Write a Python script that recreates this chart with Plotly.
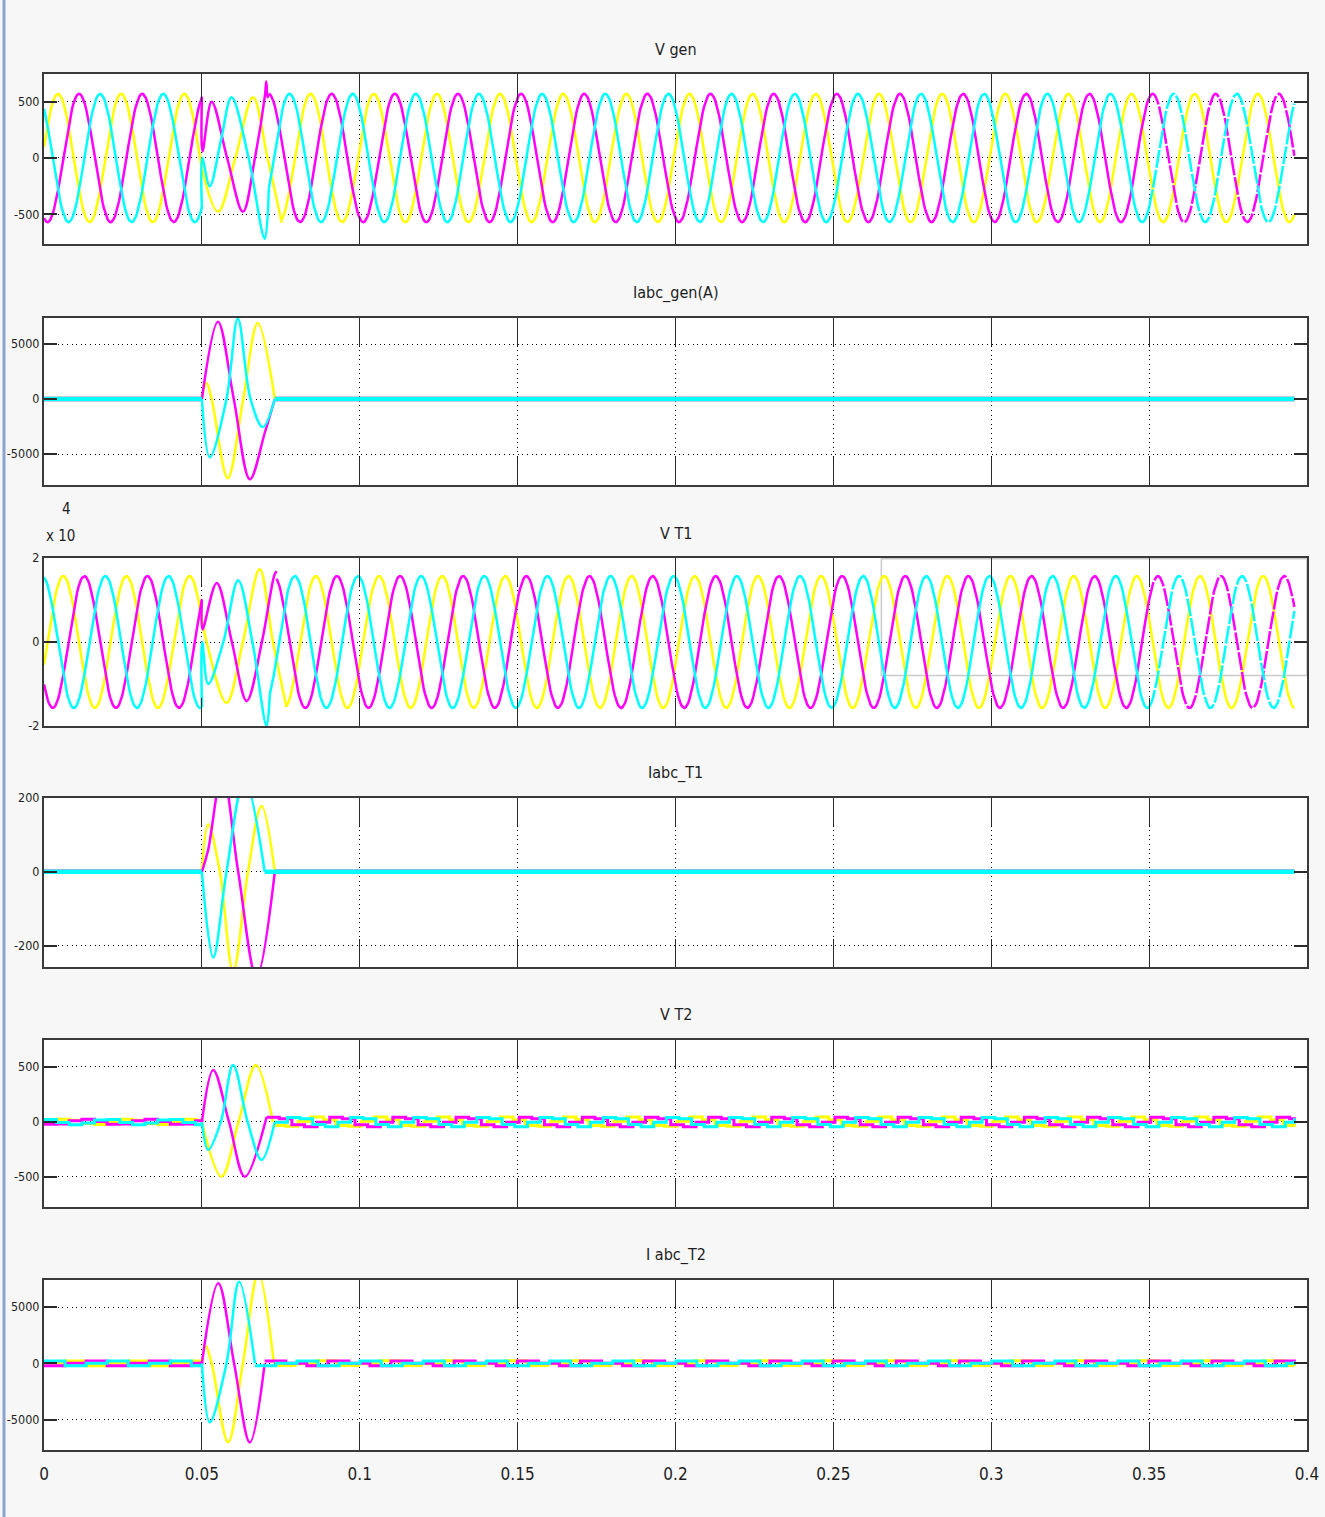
import numpy as np
import plotly.graph_objects as go

# ---------------- time base ----------------
T_STOP = 0.396          # last simulated sample shown
F_HZ = 50.0             # system frequency
T_FAULT = 0.05          # fault inception
T_SPARSE = 0.35         # from here the scope buffer is drawn with gaps

X_TICK_VALS = [0.0, 0.05, 0.10, 0.15, 0.20, 0.25, 0.30, 0.35, 0.40]
X_TICK_TEXT = ["0", "0.05", "0.1", "0.15", "0.2", "0.25", "0.3", "0.35", "0.4"]

PHASE_COLORS = ["#ffff00", "#ff00ff", "#00ffff"]   # phase a, b, c

PANEL_TITLES = ["V gen", "Iabc_gen(A)", "V T1", "Iabc_T1", "V T2", "I abc_T2"]
PANEL_Y_RANGES = [[-764, 746], [-7818, 7364], [-20000, 20000],
                  [-258, 200], [-773, 745], [-7710, 7410]]
PANEL_Y_TICKS = [[-500, 0, 500], [-5000, 0, 5000], [-20000, 0, 20000],
                 [-200, 0, 200], [-500, 0, 500], [-5000, 0, 5000]]
PANEL_Y_TICK_TEXT = [["-500", "0", "500"], ["-5000", "0", "5000"], ["-2", "0", "2"],
                     ["-200", "0", "200"], ["-500", "0", "500"], ["-5000", "0", "5000"]]

# ---------------- steady-state phasors ----------------
VGEN_AMP = 570.0
VGEN_ANGLE_DEG = [10.0, -110.0, 130.0]
VT1_AMP = 15700.0
VT1_ANGLE_DEG = [-20.0, -140.0, 100.0]
VT2_AMP_PRE = 25.0
VT2_AMP_POST = 45.0
VT2_ANGLE_DEG = [0.0, -120.0, 120.0]
IT2_RIPPLE_AMP = 250.0
IT2_ANGLE_DEG = [0.0, -120.0, 120.0]
VT2_HOLD = 0.004
IT2_HOLD = 0.02 / 3

# ---------------- fault-period waveforms (t [s], value) ----------------
VGEN_FAULT_A = [(0.0500, -98), (0.0551, -478), (0.0606, 0), (0.0662, 540),
                (0.0708, 0), (0.0753, -575)]
VGEN_FAULT_B = [(0.0500, 545), (0.0502, 60), (0.0531, 500), (0.0580, 0),
                (0.0630, -478), (0.0668, 0), (0.0700, 560), (0.0704, 680),
                (0.0708, 540), (0.0712, 570)]
VGEN_FAULT_C = [(0.0500, -447), (0.0501, 0), (0.0525, -250), (0.0560, 150),
                (0.0594, 540), (0.0648, 0), (0.0699, -717), (0.0712, -271)]

IGEN_FAULT_A = [(0.0500, 0), (0.0515, 1450), (0.0531, 0), (0.0582, -7200),
                (0.0631, 0), (0.0677, 6900), (0.0731, 0)]
IGEN_FAULT_B = [(0.0500, 0), (0.0551, 7030), (0.0601, 0), (0.0652, -7300),
                (0.0700, -3000), (0.0731, 0)]
IGEN_FAULT_C = [(0.0500, 0), (0.0525, -5300), (0.0578, 0), (0.0614, 7300),
                (0.0654, 0), (0.0693, -2550), (0.0731, 0)]

VT1_FAULT_A = [(0.0500, 5370), (0.0515, 0), (0.0578, -14500), (0.0630, 0),
               (0.0683, 17400), (0.0725, 0), (0.0768, -15500)]
VT1_FAULT_B = [(0.0500, 10090), (0.0502, 3000), (0.0547, 14050), (0.0595, 0),
               (0.0642, -14050), (0.0690, 0), (0.0730, 16000), (0.0737, 16870)]
VT1_FAULT_C = [(0.0500, -15460), (0.0501, 0), (0.0520, -10000), (0.0568, 0),
               (0.0615, 14700), (0.0660, 0), (0.0705, -20000), (0.0715, -12540)]

IT1_FAULT_A = [(0.0500, 0), (0.0520, 129), (0.0557, 0), (0.0599, -270),
               (0.0646, 0), (0.0689, 178), (0.0731, 0)]
IT1_FAULT_B = [(0.0500, 0), (0.0520, 60), (0.0565, 270), (0.0615, 0),
               (0.0673, -285), (0.0731, 0)]
IT1_FAULT_C = [(0.0500, 0), (0.0536, -232), (0.0578, 0), (0.0635, 250),
               (0.0699, 0)]

VT2_FAULT_A = [(0.0500, 0), (0.0562, -497), (0.0616, 0), (0.0671, 518),
               (0.0725, 0)]
VT2_FAULT_B = [(0.0500, 0), (0.0536, 473), (0.0586, 0), (0.0636, -497),
               (0.0705, 45)]
VT2_FAULT_C = [(0.0500, 0), (0.0520, -255), (0.0560, 0), (0.0599, 518),
               (0.0645, 0), (0.0689, -345), (0.0731, 0)]

IT2_FAULT_A = [(0.0500, 0), (0.0512, 1518), (0.0531, 0), (0.0583, -7030),
               (0.0630, 0), (0.0679, 8000), (0.0728, 0)]
IT2_FAULT_B = [(0.0500, 0), (0.0552, 7116), (0.0602, 0), (0.0652, -7030),
               (0.0699, 0)]
IT2_FAULT_C = [(0.0500, 0), (0.0525, -5240), (0.0578, 0), (0.0618, 7260),
               (0.0668, 0)]

# ---------------- layout geometry (pixels) ----------------
FIG_W, FIG_H = 1325, 1517
PLOT_X0, PLOT_X1 = 44, 1307
PANEL_PX = [(74, 244), (318, 485), (558, 726), (798, 967), (1040, 1207), (1280, 1450)]

FONT = "Liberation Sans Narrow, DejaVu Sans Condensed, Arial Narrow, Liberation Sans, sans-serif"
INK = "#1e1e1e"


def phasor(t, amp, ang_deg):
    return amp * np.sin(2 * np.pi * F_HZ * t + np.radians(ang_deg))


def smooth_segment(t0, t1, amp, ang):
    t = np.linspace(t0, t1, max(int((t1 - t0) / 0.0004), 2))
    return t, phasor(t, amp, ang)


def held_segment(t0, t1, amp, ang, hold):
    t = np.arange(t0, t1, hold)
    t = np.append(t, t1)
    return t, phasor(t, amp, ang)


fig = go.Figure()


def axis_names(i):
    s = "" if i == 0 else str(i + 1)
    return "x" + s, "y" + s


def add_line(i, t, v, color, width, shape="linear", dash="solid"):
    xa, ya = axis_names(i)
    fig.add_trace(go.Scatter(
        x=t, y=v, mode="lines", xaxis=xa, yaxis=ya,
        line=dict(color=color, width=width, shape=shape, smoothing=1.0, dash=dash),
        hoverinfo="skip", showlegend=False))


def add_voltage_panel(i, amp, angles, faults):
    for k, knots in enumerate(faults):
        c = PHASE_COLORS[k]
        t, v = smooth_segment(0.0, T_FAULT, amp, angles[k])
        add_line(i, t, v, c, 2.5)
        kt, kv = zip(*knots)
        add_line(i, kt, kv, c, 2.5, "spline")
        t, v = smooth_segment(kt[-1], T_SPARSE, amp, angles[k])
        add_line(i, t, v, c, 2.5)
        t, v = smooth_segment(T_SPARSE, T_STOP, amp, angles[k])
        add_line(i, t, v, c, 2.5, dash="solid" if k == 0 else "18px,2px")


def add_current_panel(i, faults):
    for k, knots in enumerate(faults):
        c = PHASE_COLORS[k]
        add_line(i, [0.0, T_FAULT], [0, 0], c, 4.5)
        kt, kv = zip(*knots)
        add_line(i, kt, kv, c, 2.5, "spline")
        add_line(i, [kt[-1], T_STOP], [0, 0], c, 4.5)


def add_held_panel(i, amp_pre, amp_post, angles, hold, faults):
    for k, knots in enumerate(faults):
        c = PHASE_COLORS[k]
        t, v = held_segment(0.0, T_FAULT, amp_pre, angles[k], hold)
        add_line(i, t, v, c, 3, "hv")
        kt, kv = zip(*knots)
        add_line(i, kt, kv, c, 2.5, "spline")
        t, v = held_segment(kt[-1], T_STOP, amp_post, angles[k], hold)
        add_line(i, t, v, c, 3, "hv")


add_voltage_panel(0, VGEN_AMP, VGEN_ANGLE_DEG, [VGEN_FAULT_A, VGEN_FAULT_B, VGEN_FAULT_C])
add_current_panel(1, [IGEN_FAULT_A, IGEN_FAULT_B, IGEN_FAULT_C])
add_voltage_panel(2, VT1_AMP, VT1_ANGLE_DEG, [VT1_FAULT_A, VT1_FAULT_B, VT1_FAULT_C])
add_current_panel(3, [IT1_FAULT_A, IT1_FAULT_B, IT1_FAULT_C])
add_held_panel(4, VT2_AMP_PRE, VT2_AMP_POST, VT2_ANGLE_DEG, VT2_HOLD,
               [VT2_FAULT_A, VT2_FAULT_B, VT2_FAULT_C])
add_held_panel(5, IT2_RIPPLE_AMP, IT2_RIPPLE_AMP, IT2_ANGLE_DEG, IT2_HOLD,
               [IT2_FAULT_A, IT2_FAULT_B, IT2_FAULT_C])

# ---------------- axes ----------------
layout = dict(
    width=FIG_W, height=FIG_H,
    margin=dict(l=0, r=0, t=0, b=0, autoexpand=False),
    paper_bgcolor="#f7f7f7", plot_bgcolor="#ffffff",
    font=dict(family=FONT, color=INK, size=16),
    showlegend=False,
)
annotations = []
for i, (top, bot) in enumerate(PANEL_PX):
    xa, ya = axis_names(i)
    xkey = "xaxis" if i == 0 else "xaxis%d" % (i + 1)
    ykey = "yaxis" if i == 0 else "yaxis%d" % (i + 1)
    layout[xkey] = dict(
        domain=[PLOT_X0 / FIG_W, PLOT_X1 / FIG_W], anchor=ya, automargin=False,
        range=[0, 0.4], tickvals=X_TICK_VALS, ticktext=X_TICK_TEXT,
        showticklabels=(i == len(PANEL_PX) - 1),
        ticks="inside", ticklen=28, tickwidth=1.2, tickcolor="#2a2a2a",
        showline=True, linecolor="#3a3a3a", linewidth=2, mirror="ticks",
        showgrid=True, gridcolor="#000000", gridwidth=1, griddash="1px,3.6px",
        zeroline=False, ticklabelstandoff=8,
        tickfont=dict(family=FONT, size=17, color=INK),
    )
    layout[ykey] = dict(
        domain=[1 - bot / FIG_H, 1 - top / FIG_H], anchor=xa, automargin=False,
        range=PANEL_Y_RANGES[i], tickvals=PANEL_Y_TICKS[i],
        ticktext=PANEL_Y_TICK_TEXT[i],
        ticks="inside", ticklen=13, tickwidth=2, tickcolor="#2a2a2a",
        showline=True, linecolor="#3a3a3a", linewidth=2, mirror="ticks",
        showgrid=True, gridcolor="#000000", gridwidth=1, griddash="1px,3.6px",
        zeroline=False, ticklabelstandoff=0,
        tickfont=dict(family=FONT, size=12.5, color=INK),
    )
    annotations.append(dict(
        text=PANEL_TITLES[i], xref="paper", yref="paper",
        x=(PLOT_X0 + PLOT_X1) / 2 / FIG_W, y=1 - (top - 25) / FIG_H,
        xanchor="center", yanchor="middle", showarrow=False,
        font=dict(family=FONT, size=16, color=INK)))

# scale factor of the T1 voltage axis
annotations.append(dict(text="x 10", xref="paper", yref="paper",
                        x=44 / FIG_W, y=1 - 536 / FIG_H, xanchor="left", yanchor="middle",
                        showarrow=False, font=dict(family=FONT, size=15, color=INK)))
annotations.append(dict(text="4", xref="paper", yref="paper",
                        x=66 / FIG_W, y=1 - 509 / FIG_H, xanchor="center", yanchor="middle",
                        showarrow=False, font=dict(family=FONT, size=15, color=INK)))
layout["annotations"] = annotations

layout["shapes"] = [
    # window border on the left
    dict(type="line", xref="paper", yref="paper", x0=4 / FIG_W, x1=4 / FIG_W, y0=0, y1=1,
         line=dict(color="#8aa4d0", width=3), layer="below"),
    # zoom box left on the T1 voltage scope
    dict(type="rect", xref="x3", yref="y3", x0=0.2652, x1=0.4, y0=-8000, y1=19800,
         line=dict(color="#c8ccc8", width=1.5), layer="below"),
]

fig.update_layout(**layout)
fig.write_html("out.html")
